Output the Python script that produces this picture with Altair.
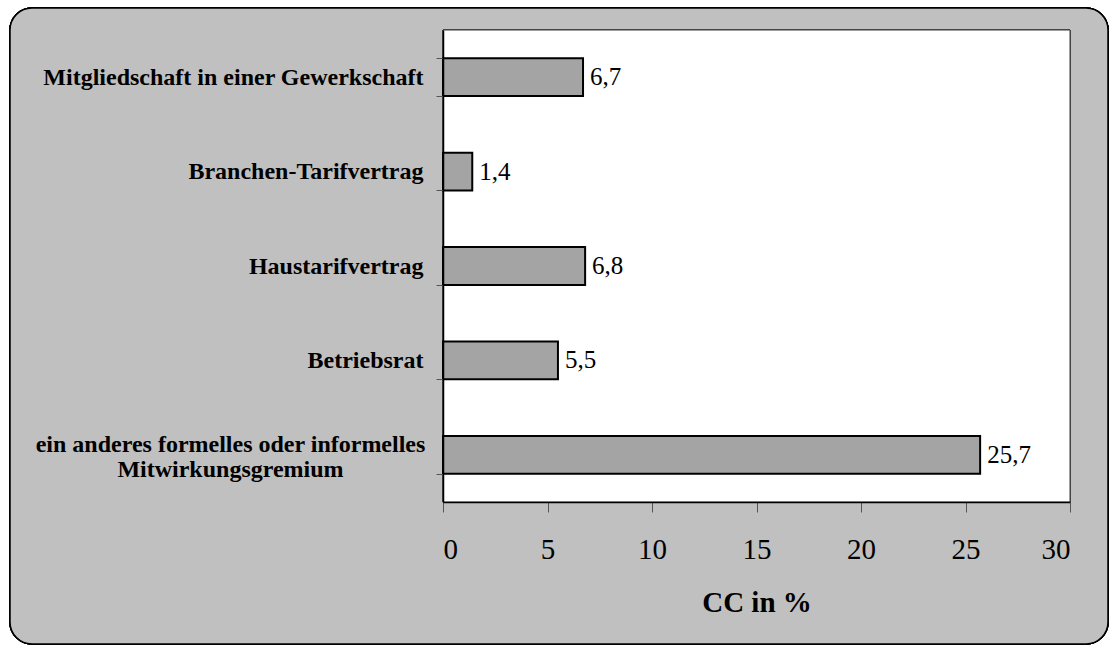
import altair as alt
import pandas as pd

# Survey items (top to bottom) and the share of CC firms, in percent
categories = [
    "Mitgliedschaft in einer Gewerkschaft",
    "Branchen-Tarifvertrag",
    "Haustarifvertrag",
    "Betriebsrat",
    "ein anderes formelles oder informelles Mitwirkungsgremium",
]
values = [6.7, 1.4, 6.8, 5.5, 25.7]
x_ticks = [0, 5, 10, 15, 20, 25, 30]

df = pd.DataFrame({
    "item": categories,
    "value": values,
    "label": [f"{v:.1f}".replace(".", ",") for v in values],
})

W, H = 627, 472
PAD = {"left": 443, "top": 30, "right": 39, "bottom": 143}
SERIF = "'Liberation Serif', 'Times New Roman', Times, serif"

# The long item is split over two lines and centred as a block
long_item = categories[4]
is_long = f"datum.value == '{long_item}'"
label_expr = (
    f"{is_long} ? ['ein anderes formelles oder informelles', 'Mitwirkungsgremium'] : datum.value"
)

y_enc = alt.Y(
    "item:N",
    sort=categories,
    scale=alt.Scale(paddingInner=0.6, paddingOuter=0.3),
    axis=alt.Axis(
        title=None,
        labelExpr=label_expr,
        labelFont=SERIF,
        labelFontSize=24,
        labelFontWeight="bold",
        labelColor="black",
        labelLimit=600,
        labelAlign={"condition": {"test": is_long, "value": "center"}, "value": "right"},
        labelPadding={"condition": {"test": is_long, "value": 206}, "value": 13},
        labelOffset={"condition": {"test": is_long, "value": -10}, "value": 0},
        labelLineHeight=25,
        tickBand="extent",
        tickSize=7,
        tickColor="#555555",
        domainColor="black",
        domainWidth=1.5,
        zindex=1,
    ),
)
x_enc = alt.X(
    "value:Q",
    scale=alt.Scale(domain=[0, 30], nice=False),
    axis=alt.Axis(
        title="CC in %",
        values=x_ticks,
        format="d",
        labelFont=SERIF,
        labelFontSize=29,
        labelColor="black",
        labelPadding=23,
        tickSize=10,
        tickColor="#555555",
        domainColor="black",
        domainWidth=1.5,
        titleFont=SERIF,
        titleFontSize=29,
        titleFontWeight="bold",
        titleColor="black",
        titlePadding=24,
        grid=False,
        zindex=1,
    ),
)

# Rounded grey panel behind everything, and the white plot frame on top of it
panel = alt.Chart(df).mark_rect(
    fill="#c0c0c0", stroke="black", strokeWidth=1.5, cornerRadius=22
).encode(
    x=alt.value(10 - PAD["left"]),
    x2=alt.value(1108 - PAD["left"]),
    y=alt.value(8 - PAD["top"]),
    y2=alt.value(644 - PAD["top"]),
)
frame = alt.Chart(df).mark_rect(fill="white", stroke="#404040", strokeWidth=1).encode(
    x=alt.value(0), x2=alt.value(W), y=alt.value(0), y2=alt.value(H)
)

bars = alt.Chart(df).mark_bar(
    fill="#a4a4a4", stroke="black", strokeWidth=2
).encode(x=x_enc, y=y_enc)

texts = alt.Chart(df).mark_text(
    align="left", baseline="middle", dx=7, font=SERIF, fontSize=25, color="black"
).encode(x="value:Q", y=alt.Y("item:N", sort=categories), text="label:N")

chart = (
    alt.layer(panel, frame, bars, texts)
    .properties(
        width=W,
        height=H,
        padding=PAD,
        autosize=alt.AutoSizeParams(type="none"),
        background="white",
    )
    .configure_view(stroke=None)
)

chart.save("out.html", embed_options={"renderer": "svg", "actions": False})
